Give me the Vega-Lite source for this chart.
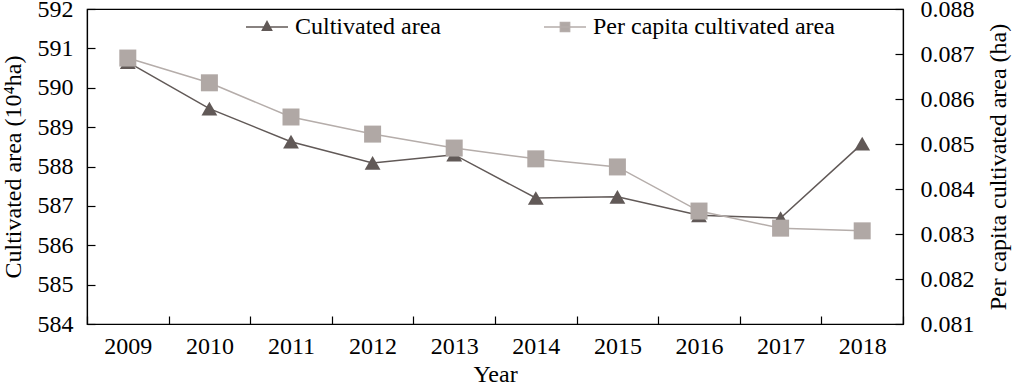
{
  "$schema": "https://vega.github.io/schema/vega-lite/v6.json",
  "width": 816,
  "height": 315,
  "autosize": "none",
  "padding": {"left": 87, "top": 9, "right": 110, "bottom": 63},
  "background": "white",
  "config": {
    "font": "Liberation Serif",
    "view": {"stroke": "black", "strokeWidth": 1.2},
    "axis": {
      "labelFont": "Liberation Serif",
      "titleFont": "Liberation Serif",
      "labelFontSize": 24,
      "titleFontSize": 24,
      "titleFontWeight": "normal",
      "labelColor": "black",
      "titleColor": "black",
      "domainColor": "black",
      "domainWidth": 1.2,
      "tickColor": "black",
      "tickWidth": 1.2,
      "tickSize": -8,
      "labelOverlap": false,
      "grid": false
    },
    "legend": {
      "labelFont": "Liberation Serif",
      "labelFontSize": 24,
      "labelColor": "black",
      "labelLimit": 400,
      "symbolStrokeWidth": 1.5,
      "symbolSize": 1764,
      "labelOffset": 6,
      "title": null
    }
  },
  "data": {
    "values": [
      {"year": "2009", "area": 590.65, "percap": 0.08691},
      {"year": "2010", "area": 589.47, "percap": 0.08636},
      {"year": "2011", "area": 588.63, "percap": 0.0856},
      {"year": "2012", "area": 588.09, "percap": 0.08522},
      {"year": "2013", "area": 588.3, "percap": 0.08491},
      {"year": "2014", "area": 587.2, "percap": 0.08467},
      {"year": "2015", "area": 587.23, "percap": 0.08449},
      {"year": "2016", "area": 586.76, "percap": 0.08351},
      {"year": "2017", "area": 586.69, "percap": 0.08313},
      {"year": "2018", "area": 588.58, "percap": 0.08307}
    ]
  },
  "encoding": {
    "x": {
      "field": "year",
      "type": "ordinal",
      "bandPosition": 0.5,
      "scale": {"type": "band", "paddingInner": 0, "paddingOuter": 0},
      "axis": {
        "title": "Year",
        "labelAngle": 0,
        "labelFontSize": 24,
        "titleFontSize": 24,
        "labelOverlap": false,
        "tickBand": "extent",
        "labelPadding": 18,
        "titlePadding": 4
      }
    }
  },
  "layer": [
    {
      "encoding": {
        "y": {
          "field": "area",
          "type": "quantitative",
          "scale": {"domain": [584, 592], "nice": false, "zero": false},
          "axis": {
            "orient": "left",
            "title": "Cultivated area (10⁴ha)",
            "values": [584, 585, 586, 587, 588, 589, 590, 591, 592],
            "tickCount": 9,
            "labelOverlap": false,
            "labelFontSize": 24,
            "titleFontSize": 24,
            "labelPadding": 22,
            "titlePadding": 12
          }
        }
      },
      "layer": [
        {
          "mark": {"type": "line", "color": "#615957", "strokeWidth": 1.5}
        },
        {
          "mark": {"type": "point", "shape": "triangle-up", "filled": true, "size": 250, "opacity": 1},
          "encoding": {
            "fill": {
              "datum": "Cultivated area",
              "type": "nominal",
              "scale": {"domain": ["Cultivated area"], "range": ["#615957"]},
              "legend": {
                "title": null,
                "orient": "none",
                "legendX": 158,
                "legendY": -4,
                "symbolType": "M-1,0H1M0,-0.26L0.22,0.16L-0.22,0.16Z",
                "symbolStrokeColor": "#615957",
                "symbolFillColor": "#615957",
                "symbolStrokeWidth": 1.5,
                "symbolSize": 1764,
                "labelOffset": 6
              }
            }
          }
        }
      ]
    },
    {
      "encoding": {
        "y": {
          "field": "percap",
          "type": "quantitative",
          "scale": {"domain": [0.081, 0.088], "nice": false, "zero": false},
          "axis": {
            "orient": "right",
            "title": "Per capita cultivated area (ha)",
            "titleAngle": -90,
            "titleBaseline": "top",
            "values": [0.081, 0.082, 0.083, 0.084, 0.085, 0.086, 0.087, 0.088],
            "format": ".3f",
            "labelOverlap": false,
            "labelFontSize": 24,
            "titleFontSize": 24,
            "labelPadding": 25,
            "titlePadding": 12
          }
        }
      },
      "layer": [
        {
          "mark": {"type": "line", "color": "#b5adaa", "strokeWidth": 1.5}
        },
        {
          "mark": {"type": "point", "shape": "square", "filled": true, "size": 289, "opacity": 1},
          "encoding": {
            "fill": {
              "datum": "Per capita cultivated area",
              "type": "nominal",
              "scale": {"domain": ["Per capita cultivated area"], "range": ["#b0a8a5"]},
              "legend": {
                "title": null,
                "orient": "none",
                "legendX": 456,
                "legendY": -4,
                "symbolType": "M-1,0H1M-0.22,-0.22H0.22V0.22H-0.22Z",
                "symbolStrokeColor": "#b5adaa",
                "symbolFillColor": "#b0a8a5",
                "symbolStrokeWidth": 1.5,
                "symbolSize": 1764,
                "labelOffset": 6
              }
            }
          }
        }
      ]
    }
  ],
  "resolve": {
    "scale": {"y": "independent", "fill": "independent"},
    "legend": {"fill": "independent"}
  }
}
